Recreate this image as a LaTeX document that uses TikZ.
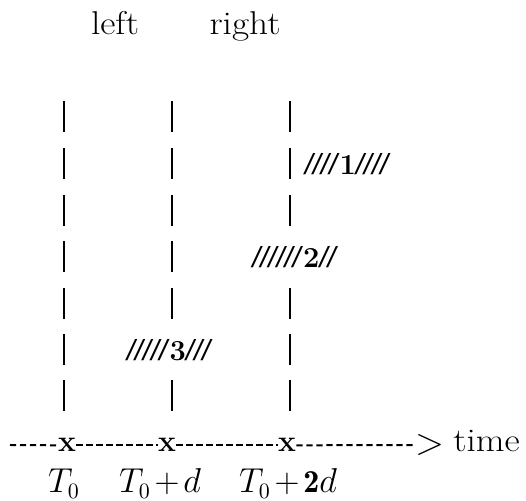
\documentclass[tikz,border=0pt]{standalone}
\usepackage{fontspec}
\newfontfamily\slfont{Liberation Sans}
\newcommand\hatchtxt[1]{{\slfont\itshape #1}}
\newcommand\widetxt[1]{\scalebox{1.13}[1]{#1}}
\begin{document}
\begin{tikzpicture}[x=0.5pt,y=-0.5pt,
  bar/.style={line width=1.2pt},
  word/.style={inner sep=0pt,font=\fontsize{16.5}{20}\selectfont},
  hatch/.style={inner sep=0pt,font=\fontsize{14.5}{18}\selectfont},
  tick/.style={inner sep=0pt,font=\fontsize{15}{19}\selectfont\bfseries},
  arrowtxt/.style={inner sep=0pt,font=\fontsize{19}{22}\selectfont},
  lab/.style={inner sep=0pt,font=\fontsize{16}{19}\selectfont},
  axis/.style={line width=1pt,dash pattern=on 3.1pt off 1.9pt}]
\useasboundingbox (0,0) rectangle (526,501);
% headings
\node[word,anchor=base] (left) at (115,35) {\widetxt{left}};
\node[word,anchor=base] (right) at (245,35) {\widetxt{right}};
% vertical bars
\foreach \y in {117,164,211,257,304,350,396} {
  \draw[bar] (64,\y-15.5) -- (64,\y+15.5);
}
\foreach \y in {117,164,211,257,304,396} {
  \draw[bar] (172,\y-15.5) -- (172,\y+15.5);
}
\foreach \y in {117,164,211,304,350,396} {
  \draw[bar] (290,\y-15.5) -- (290,\y+15.5);
}
% hatched intervals
\node[hatch] (h1) at (346.5,164) {\hatchtxt{////}\textbf{1}\hatchtxt{////}};
\node[hatch] (h2) at (294,257) {\hatchtxt{//////}\textbf{2}\hatchtxt{//}};
\node[hatch] (h3) at (168.5,350) {\hatchtxt{/////}\textbf{3}\hatchtxt{///}};
% time axis
\coordinate (a0) at (10,445);
\node[tick,anchor=base] (x1) at (67,452) {x};
\node[tick,anchor=base] (x2) at (167,452) {x};
\node[tick,anchor=base] (x3) at (287,452) {x};
\node[arrowtxt] (gt) at (430,445) {>};
\node[word,anchor=base west] (time) at (453,452) {\widetxt{time}};
\draw[axis] (a0) -- (x1.west);
\draw[axis] (x1.east) -- (x2.west);
\draw[axis] (x2.east) -- (x3.west);
\draw[axis] (x3.east) -- (gt.west);
% labels
\node[lab,anchor=base] (t0) at (64,493) {$T_0$};
\node[lab,anchor=base] (t1) at (160,493) {$T_0\mkern2mu{+}\mkern2mu d$};
\node[lab,anchor=base] (t2) at (288,493) {$T_0\mkern2mu{+}\mkern2mu\mathbf{2}d$};
\end{tikzpicture}
\end{document}
